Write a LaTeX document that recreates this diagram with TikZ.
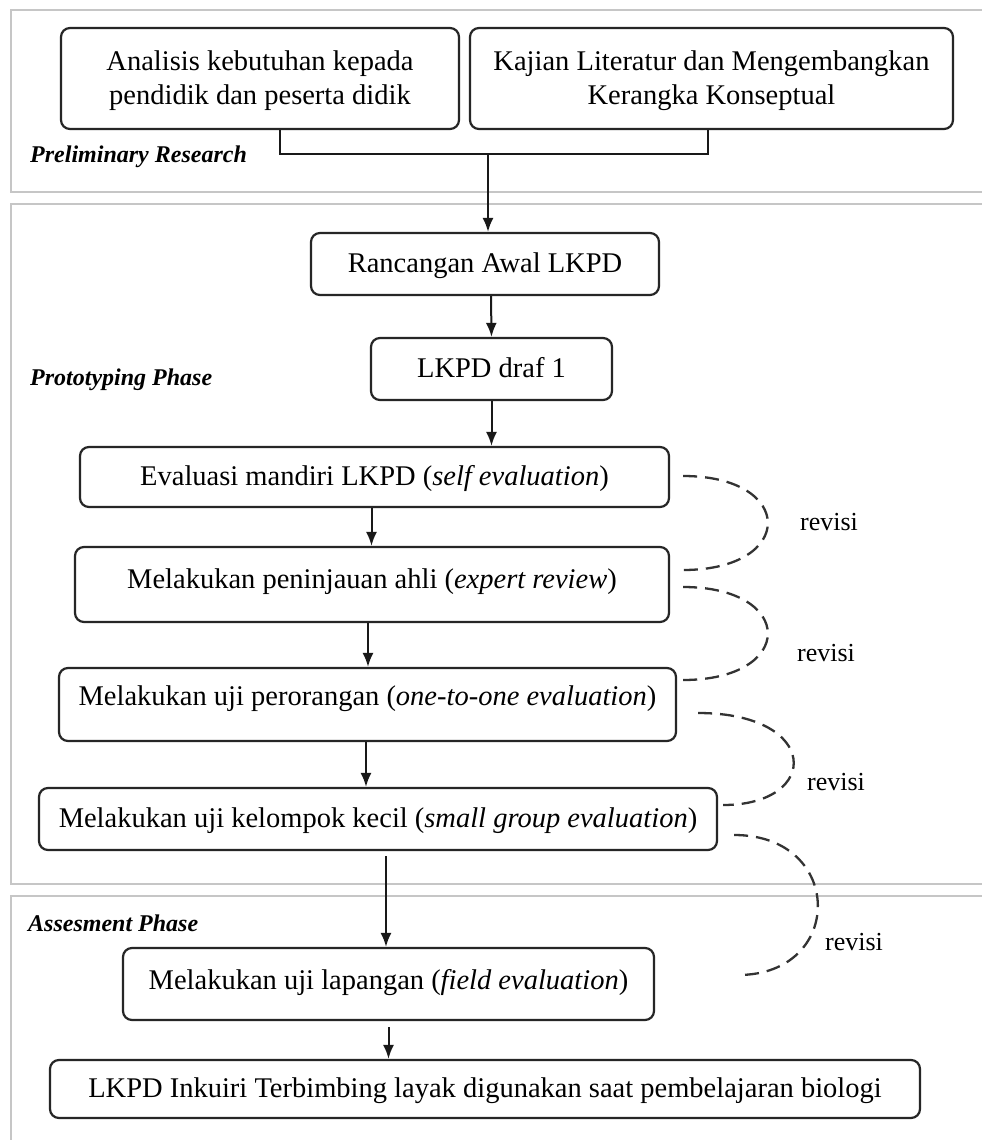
\documentclass[tikz,border=0pt]{standalone}
\usepackage{fontspec}
\setmainfont{Liberation Serif}
\usetikzlibrary{arrows.meta}
\begin{document}
\begin{tikzpicture}[x=1pt,y=-1pt,
  frame/.style={draw=gray!45,line width=2.5pt},
  box/.style={draw=black!85,line width=2.2pt,rounded corners=9pt,inner sep=0pt,
    font=\fontsize{28.5}{34}\selectfont,text height=23pt,text depth=6pt},
  boxtwo/.style={draw=black!85,line width=2.2pt,rounded corners=9pt,inner sep=0pt,
    font=\fontsize{28.5}{34}\selectfont,align=center},
  phase/.style={font=\fontsize{24}{28}\selectfont\bfseries\itshape,anchor=west,inner sep=0pt},
  arr/.style={draw=black!90,line width=2pt,-{Latex[length=14pt,width=11pt]}},
  conn/.style={draw=black!90,line width=2pt},
  rev/.style={draw=black!80,line width=2.3pt,dash pattern=on 14pt off 8pt},
  revlab/.style={font=\fontsize{26}{30}\selectfont,inner sep=0pt}
]
\useasboundingbox (0,0) rectangle (982,1140);
\clip (0,0) rectangle (982,1140);
\fill[white] (0,0) rectangle (982,1140);

% phase frames
\draw[frame] (11,10) rectangle (1000,192);
\draw[frame] (11,204) rectangle (1000,884);
\draw[frame] (11,896) rectangle (1000,1160);

\node[phase] (lprelim) at (30,157) {Preliminary Research};
\node[phase] (lproto) at (30,380) {Prototyping Phase};
\node[phase] (lassess) at (28,923) {Assesment Phase};

% boxes
\node[boxtwo,minimum width=398pt,minimum height=101pt] (anal) at (260,78.5)
  {\rule{0pt}{25pt}Analisis kebutuhan kepada\\pendidik dan peserta didik};
\node[boxtwo,minimum width=483pt,minimum height=101pt] (kaji) at (711.5,78.5)
  {\rule{0pt}{25pt}Kajian Literatur dan Mengembangkan\\Kerangka Konseptual};
\node[box,minimum width=348pt,minimum height=62pt] (ranc) at (485,264) {Rancangan Awal LKPD};
\node[box,minimum width=241pt,minimum height=62pt] (draf) at (491.5,369) {LKPD draf 1};
\node[box,minimum width=589pt,minimum height=60pt] (eval) at (374.5,477)
  {Evaluasi mandiri LKPD (\textit{self evaluation})};
\node[box,minimum width=594pt,minimum height=75pt,text depth=15pt] (ahli) at (372,584.5)
  {Melakukan peninjauan ahli (\textit{expert review})};
\node[box,minimum width=617pt,minimum height=73pt,text depth=21pt] (oran) at (367.5,704.5)
  {Melakukan uji perorangan (\textit{one-to-one evaluation})};
\node[box,minimum width=678pt,minimum height=62pt] (kecil) at (378,819)
  {Melakukan uji kelompok kecil (\textit{small group evaluation})};
\node[box,minimum width=531pt,minimum height=72pt,text depth=12pt] (field) at (388.5,984)
  {Melakukan uji lapangan (\textit{field evaluation})};
\node[box,minimum width=870pt,minimum height=58pt] (final) at (485,1089)
  {LKPD Inkuiri Terbimbing layak digunakan saat pembelajaran biologi};

% connectors
\coordinate (j1) at (280,154);
\coordinate (j2) at (708,154);
\coordinate (jm) at (488,154);
\draw[conn] (j1 |- anal.south) -- (j1) -- (j2) -- (j2 |- kaji.south);
\draw[arr] (jm) -- (jm |- ranc.north);
\draw[arr] ([xshift=6pt]ranc.south) -- (draf.north);
\draw[arr] (draf.south) -- (draf.south |- eval.north);
\draw[arr] ([xshift=-3pt]eval.south) -- ([xshift=-3pt]eval.south |- ahli.north);
\draw[arr] ([xshift=-4pt]ahli.south) -- ([xshift=-4pt]ahli.south |- oran.north);
\draw[arr] ([xshift=-1.5pt]oran.south) -- ([xshift=-1.5pt]oran.south |- kecil.north);
\draw[arr,shorten <=5pt] ([xshift=8pt]kecil.south) -- ([xshift=8pt]kecil.south |- field.north);
\draw[arr,shorten <=6pt] (field.south) -- (field.south |- final.north);

% revision loops
\draw[rev] ([shift={(13,-1)}]eval.east) .. controls +(113,0) and +(113,0) .. ([shift={(13,-14.5)}]ahli.east);
\draw[rev] ([shift={(13,2.5)}]ahli.east) .. controls +(113,0) and +(113,0) .. ([shift={(6,-24.5)}]oran.east);
\draw[rev] ([shift={(21,8.5)}]oran.east) .. controls +(123,0) and +(98,0) .. ([shift={(5,-14)}]kecil.east);
\draw[rev] ([shift={(16,16)}]kecil.east) .. controls +(111,0) and +(107,0) .. ([shift={(83,-9)}]field.east);

\node[revlab] (r1) at (829,522) {revisi};
\node[revlab] (r2) at (826,653) {revisi};
\node[revlab] (r3) at (836,782) {revisi};
\node[revlab] (r4) at (854,942) {revisi};
\end{tikzpicture}
\end{document}
